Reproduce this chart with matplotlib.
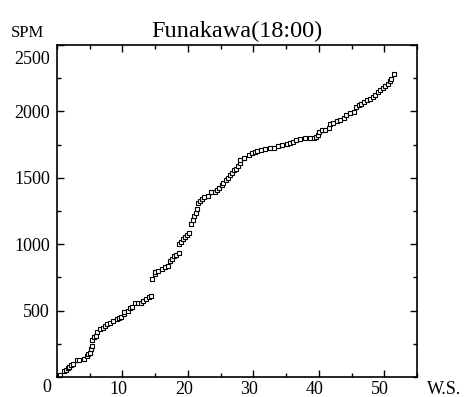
import matplotlib
matplotlib.use("Agg")
import matplotlib.pyplot as plt
from matplotlib.ticker import MultipleLocator
from matplotlib.transforms import ScaledTranslation

# Cumulative SPM against W.S.
ws = [0.5, 1.0, 1.4, 1.7, 1.9, 2.1, 2.5, 3.0, 3.4, 4.2, 4.6, 4.8, 5.1, 5.2, 5.3,
      5.4, 5.6, 5.9, 6.1, 6.5, 7.0, 7.4, 7.7, 8.1, 8.6, 9.1, 9.4, 9.8, 10.2, 10.3,
      10.8, 11.2, 11.5, 11.9, 12.4, 12.8, 13.2, 13.6, 14.1, 14.4, 14.5, 14.9, 14.9,
      15.4, 16.0, 16.5, 16.9, 17.2, 17.5, 17.8, 18.2, 18.6, 18.7, 18.9, 19.2, 19.6,
      19.9, 20.2, 20.5, 20.8, 21.0, 21.2, 21.4, 21.5, 21.8, 22.1, 22.5, 23.1, 23.6,
      24.1, 24.4, 24.8, 25.2, 25.4, 25.8, 26.1, 26.5, 26.8, 27.1, 27.4, 27.7, 27.9,
      28.0, 28.5, 29.3, 29.8, 30.2, 30.6, 31.2, 31.8, 32.5, 33.2, 33.8, 34.3, 35.1,
      35.6, 36.1, 36.5, 37.1, 37.9, 38.6, 39.2, 39.6, 39.8, 40.1, 40.5, 41.0, 41.5,
      41.7, 42.2, 42.7, 43.3, 43.8, 44.2, 44.8, 45.3, 45.7, 46.1, 46.4, 46.9, 47.3,
      47.8, 48.2, 48.6, 49.0, 49.4, 49.8, 50.1, 50.5, 50.8, 51.0, 51.5]
spm = [15, 45, 53, 66, 78, 88, 96, 128, 128, 133, 158, 171, 179, 209, 234,
       279, 299, 309, 342, 360, 372, 387, 397, 405, 422, 435, 447, 455, 473, 488,
       498, 518, 530, 556, 560, 560, 575, 586, 606, 611, 737, 777, 794,
       797, 815, 832, 839, 870, 890, 915, 920, 937, 1000, 1020, 1038, 1053,
       1071, 1088, 1154, 1184, 1209, 1234, 1264, 1310, 1327, 1342, 1355, 1360, 1397,
       1397, 1410, 1423, 1448, 1465, 1486, 1498, 1518, 1536, 1556, 1569, 1586, 1612,
       1631, 1649, 1674, 1687, 1695, 1704, 1712, 1719, 1725, 1725, 1742, 1750, 1757,
       1762, 1770, 1782, 1792, 1797, 1797, 1797, 1808, 1825, 1842, 1857, 1857, 1876,
       1908, 1913, 1925, 1933, 1951, 1971, 1988, 1993, 2034, 2051, 2059, 2072, 2084,
       2094, 2106, 2121, 2144, 2164, 2177, 2195, 2207, 2227, 2247, 2283]

x_ticks = [10, 20, 30, 40, 50]
y_ticks = [500, 1000, 1500, 2000, 2500]

plt.rcParams["font.family"] = ["Liberation Serif", "DejaVu Serif"]

fig = plt.figure(figsize=(4.67, 3.97), dpi=100)
ax = fig.add_axes([0.122, 0.0504, 0.771, 0.836])

ax.plot(ws, spm, ls="none", marker="s", ms=3.0, mfc="white", mec="black", mew=0.8)

ax.set_xlim(0, 55)
ax.set_ylim(0, 2500)
ax.set_xticks(x_ticks)
ax.set_yticks(y_ticks)
ax.xaxis.set_minor_locator(MultipleLocator(5))
ax.yaxis.set_minor_locator(MultipleLocator(250))
ax.tick_params(which="both", direction="in", top=True, right=True,
               labelsize=13, width=1.0, colors="black")
ax.tick_params(which="major", length=5)
ax.tick_params(which="minor", length=2.6)
ax.tick_params(axis="y", pad=5)
ax.tick_params(axis="x", pad=3)
for sp in ax.spines.values():
    sp.set_linewidth(1.2)

# the original nudges x labels a bit left and drops the 2500 label below the corner
shift = ScaledTranslation(-4 / 100, 0, fig.dpi_scale_trans)
for lab in ax.get_xticklabels():
    lab.set_transform(lab.get_transform() + shift)
top_lab = ax.get_yticklabels()[-1]
top_lab.set_transform(top_lab.get_transform() + ScaledTranslation(0, -12 / 100, fig.dpi_scale_trans))

ax.set_title("Funakawa(18:00)", fontsize=17.5, pad=6)
fig.text(28 / 467, 1 - 33 / 397, "SPM", fontsize=12, ha="center", va="center")
fig.text(47 / 467, 1 - 388 / 397, "0", fontsize=13, ha="center", va="center")
fig.text(444 / 467, 1 - 389 / 397, "W.S.", fontsize=13, ha="center", va="center")

fig.savefig("out.png", dpi=100)
